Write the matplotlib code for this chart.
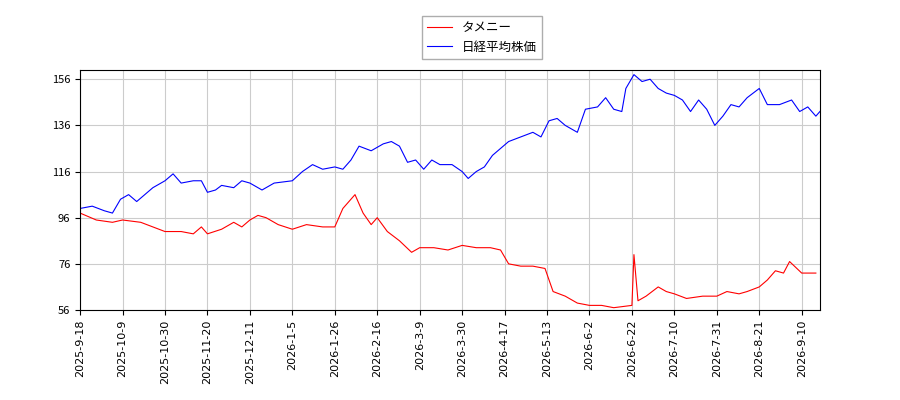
import matplotlib
matplotlib.use("Agg")
import matplotlib.pyplot as plt
import matplotlib.dates as mdates
import pandas as pd

plt.rcParams['font.family'] = ['Noto Sans CJK JP', 'DejaVu Sans']

start = pd.Timestamp("2025-09-18")
red_days = [0,8,16,21,30,36,42,50,56,60,63,70,76,80,84,88,92,98,105,112,120,126,130,136,140,144,147,152,158,164,168,175,182,189,196,203,208,212,218,224,230,234,240,246,252,258,264,273,274,276,280,286,290,294,300,308,315,320,326,330,336,340,344,348,351,357,364]
red_vals = [98,95,94,95,94,92,90,90,89,92,89,91,94,92,95,97,96,93,91,93,92,92,100,106,98,93,96,90,86,81,83,83,82,84,83,83,82,76,75,75,74,64,62,59,58,58,57,58,80,60,62,66,64,63,61,62,62,64,63,64,66,69,73,72,77,72,72]
blue_days = [0,6,12,16,20,24,28,32,36,42,46,50,56,60,63,67,70,76,80,84,90,96,105,110,115,120,126,130,134,138,144,150,154,158,162,166,170,174,178,184,189,192,196,200,204,208,212,218,224,228,232,236,240,246,250,256,260,264,268,270,274,278,282,286,290,294,298,302,306,310,314,318,322,326,330,336,340,346,352,356,360,364,366]
blue_vals = [100,101,99,98,104,106,103,106,109,112,115,111,112,112,107,108,110,109,112,111,108,111,112,116,119,117,118,117,121,127,125,128,129,127,120,121,117,121,119,119,116,113,116,118,123,126,129,131,133,131,138,139,136,133,143,144,148,143,142,152,158,155,156,152,150,149,147,142,147,143,136,140,145,144,148,152,145,145,147,142,144,140,142]
tick_labels = ["2025-9-18","2025-10-9","2025-10-30","2025-11-20","2025-12-11","2026-1-5","2026-1-26","2026-2-16","2026-3-9","2026-3-30","2026-4-17","2026-5-13","2026-6-2","2026-6-22","2026-7-10","2026-7-31","2026-8-21","2026-9-10"]

fig = plt.figure(figsize=(9, 4), dpi=100)
ax = fig.add_axes([0.089, 0.225, 0.822, 0.6])
rx = [start + pd.Timedelta(days=d) for d in red_days]
bx = [start + pd.Timedelta(days=d) for d in blue_days]
ax.plot(rx, red_vals, color='red', lw=0.8, label='タメニー')
ax.plot(bx, blue_vals, color='blue', lw=0.8, label='日経平均株価')
ticks = [start + pd.Timedelta(days=21*i) for i in range(len(tick_labels))]
ax.set_xticks(ticks)
ax.set_xticklabels(tick_labels, rotation=90, fontsize=8, family='DejaVu Sans')
ax.set_yticks(range(56, 157, 20))
ax.tick_params(axis='y', labelsize=8)
ax.set_ylim(56, 160)
ax.set_xlim(start, start + pd.Timedelta(days=366))
ax.grid(True, color='#cccccc', lw=0.8)
fig.legend(loc='upper center', bbox_to_anchor=(0.535, 0.975), fontsize=9, fancybox=False, edgecolor='#999999')
fig.savefig("out.png")
